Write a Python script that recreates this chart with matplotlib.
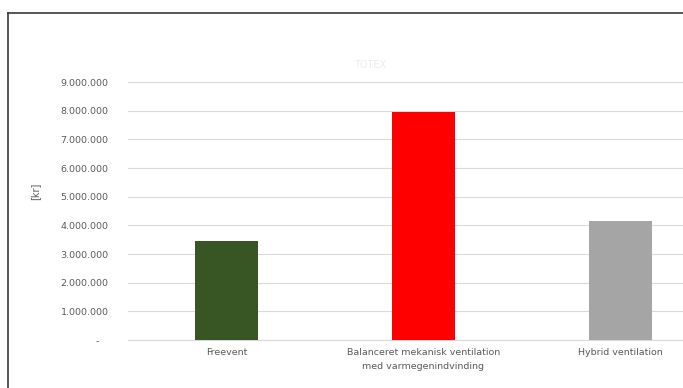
import matplotlib.pyplot as plt
from matplotlib.ticker import FuncFormatter
from matplotlib.lines import Line2D

categories = ["Freevent", "Balanceret mekanisk ventilation\nmed varmegenindvinding", "Hybrid ventilation"]
values = [3460000, 7950000, 4160000]
colors = ["#375623", "#FF0000", "#A5A5A5"]
yticks = [0, 1000000, 2000000, 3000000, 4000000, 5000000, 6000000, 7000000, 8000000, 9000000]

W, H = 683, 388
fig = plt.figure(figsize=(W / 100, H / 100), dpi=100)
fig.patch.set_facecolor("white")

# plot area runs off the right edge like the cropped original
ax = fig.add_axes([128 / W, 1 - 340 / H, 591 / W, (340 - 82) / H])
x = range(len(categories))
ax.bar(x, values, width=0.32, color=colors, zorder=3)
ax.set_xlim(-0.5, 2.5)
ax.set_ylim(0, 9000000)
ax.set_yticks(yticks)

def fmt(v, pos):
    if v == 0:
        return "-   "
    return f"{int(v):,}".replace(",", ".")

ax.yaxis.set_major_formatter(FuncFormatter(fmt))
ax.set_xticks(list(x))
ax.set_xticklabels(categories, fontsize=6.8, color="#595959", linespacing=1.6)
ax.tick_params(axis="y", labelsize=6.8, labelcolor="#595959", length=0, pad=14)
ax.tick_params(axis="x", length=0, pad=6)
ax.grid(axis="y", color="#D9D9D9", linewidth=0.8, zorder=0)
for s in ["top", "right", "left"]:
    ax.spines[s].set_visible(False)
ax.spines["bottom"].set_color("#D9D9D9")
ax.spines["bottom"].set_linewidth(0.8)

fig.text(35 / W, 1 - 191 / H, "[kr]", rotation=90, fontsize=7, color="#595959",
         ha="center", va="center")
fig.text(370 / W, 1 - 65 / H, "TOTEX", fontsize=7, color="#EDEDED", ha="center", va="center")

# frame lines of the surrounding document
fig.add_artist(Line2D([8 / W, 1], [1 - 13 / H, 1 - 13 / H], color="#3A3A3A", linewidth=1.2))
fig.add_artist(Line2D([8 / W, 8 / W], [0, 1 - 13 / H], color="#3A3A3A", linewidth=1.2))

fig.savefig("out.png", dpi=100)
